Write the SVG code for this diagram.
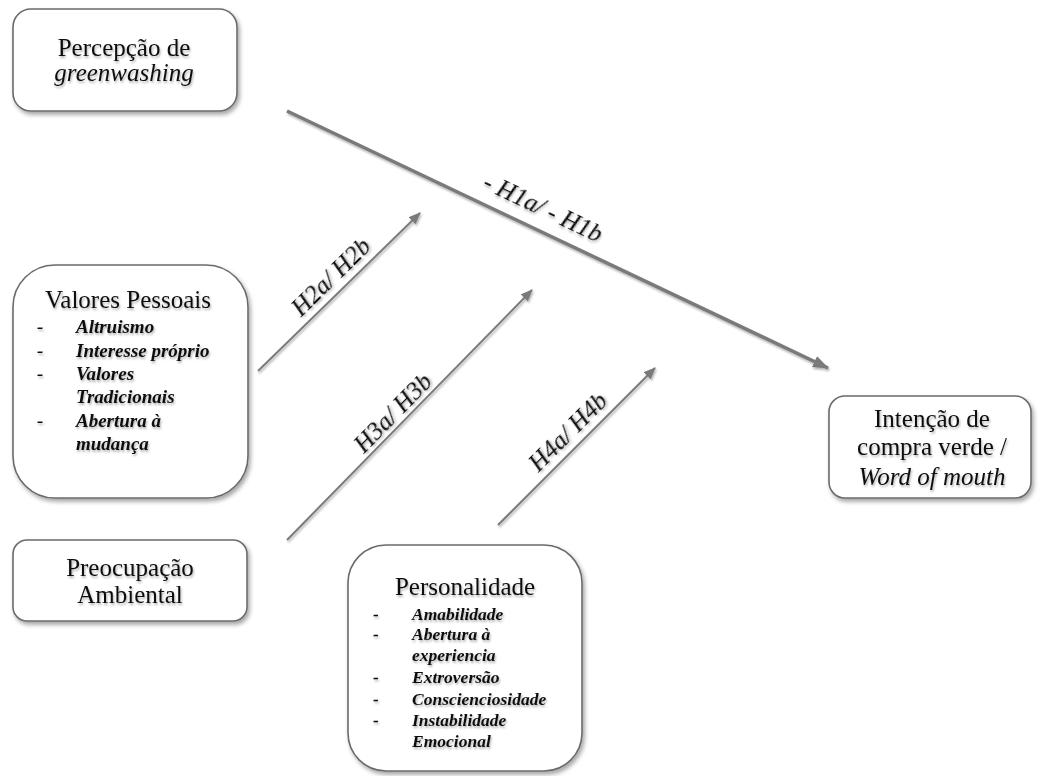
<svg xmlns="http://www.w3.org/2000/svg" width="1044" height="776" viewBox="0 0 1044 776">
<defs>
<filter id="sh" x="-10%" y="-10%" width="130%" height="130%">
<feDropShadow dx="2" dy="3" stdDeviation="2" flood-color="#000" flood-opacity="0.35"/>
</filter>
<filter id="tsh" x="-5%" y="-20%" width="115%" height="150%">
<feDropShadow dx="1" dy="2" stdDeviation="1.2" flood-color="#000" flood-opacity="0.3"/>
</filter>
<marker id="ah" markerWidth="12" markerHeight="10" refX="11" refY="5" orient="auto" markerUnits="userSpaceOnUse">
<path d="M0,0 L12,5 L0,10 Z" fill="#7a7a7a"/>
</marker>
<marker id="ahb" markerWidth="16" markerHeight="12" refX="15" refY="6" orient="auto" markerUnits="userSpaceOnUse">
<path d="M0,0 L16,6 L0,12 Z" fill="#7a7a7a"/>
</marker>
</defs>
<style>
.box{fill:#fff;stroke:#6b6b6b;stroke-width:1.6;filter:url(#sh)}
.t{fill:#111;filter:url(#tsh)}
.title{font-size:25px;text-anchor:middle}
.it{font-style:italic}
.item{font-size:19px;font-style:italic;font-weight:bold}
.item2{font-size:17.5px;font-style:italic;font-weight:bold}
.lbl{font-style:italic;font-size:25px;text-anchor:middle;fill:#111;filter:url(#tsh)}
.ln{stroke:#7a7a7a;stroke-width:2;fill:none;filter:url(#tsh)}
.lnb{stroke:#7a7a7a;stroke-width:3.5;fill:none;filter:url(#tsh)}
</style>
<rect width="1044" height="776" fill="#fff"/>
<g font-family="'Liberation Serif', 'DejaVu Serif', serif">
<g id="connectors">
<line class="lnb" x1="287" y1="111" x2="828" y2="368" marker-end="url(#ahb)"/>
<line class="ln" x1="258" y1="371" x2="420" y2="213" marker-end="url(#ah)"/>
<line class="ln" x1="287" y1="540" x2="532" y2="290" marker-end="url(#ah)"/>
<line class="ln" x1="498" y1="525" x2="655" y2="368" marker-end="url(#ah)"/>
<text class="lbl" transform="translate(543,208) rotate(25.4)" y="8">- H1a/ - H1b</text>
<text class="lbl" transform="translate(331,277) rotate(-44.3)" y="8">H2a/ H2b</text>
<text class="lbl" transform="translate(393,413) rotate(-45.6)" y="8">H3a/ H3b</text>
<text class="lbl" transform="translate(568,432) rotate(-45)" y="8">H4a/ H4b</text>
</g>

<g id="percepcao">
<rect class="box" x="13" y="9" width="224" height="102" rx="18"/>
<text class="t title" x="124" y="56">Percepção de</text>
<text class="t title it" x="124" y="81">greenwashing</text>
</g>

<g id="valores">
<rect class="box" x="13" y="265" width="235" height="233" rx="42"/>
<text class="t title" x="128" y="308">Valores Pessoais</text>
<g class="t item">
<text x="37" y="333">-</text><text x="76" y="333">Altruismo</text>
<text x="37" y="356.5">-</text><text x="76" y="356.5">Interesse próprio</text>
<text x="37" y="380">-</text><text x="76" y="380">Valores</text>
<text x="76" y="403">Tradicionais</text>
<text x="37" y="426.5">-</text><text x="76" y="426.5">Abertura à</text>
<text x="76" y="450">mudança</text>
</g>
</g>

<g id="preocupacao">
<rect class="box" x="13" y="540" width="234" height="81" rx="14"/>
<text class="t title" x="130" y="576">Preocupação</text>
<text class="t title" x="130" y="603">Ambiental</text>
</g>

<g id="personalidade">
<rect class="box" x="348" y="545" width="234" height="226" rx="38"/>
<text class="t title" x="465" y="595">Personalidade</text>
<g class="t item2">
<text x="373" y="620">-</text><text x="412" y="620">Amabilidade</text>
<text x="373" y="640">-</text><text x="412" y="640">Abertura à</text>
<text x="412" y="661">experiencia</text>
<text x="373" y="683">-</text><text x="412" y="683">Extroversão</text>
<text x="373" y="705">-</text><text x="412" y="705">Conscienciosidade</text>
<text x="373" y="726">-</text><text x="412" y="726">Instabilidade</text>
<text x="412" y="747">Emocional</text>
</g>
</g>

<g id="intencao">
<rect class="box" x="829" y="396" width="202" height="102" rx="16"/>
<text class="t title" x="932" y="427">Intenção de</text>
<text class="t title" x="932" y="455">compra verde /</text>
<text class="t title it" x="932" y="485">Word of mouth</text>
</g>
</g>
</svg>
